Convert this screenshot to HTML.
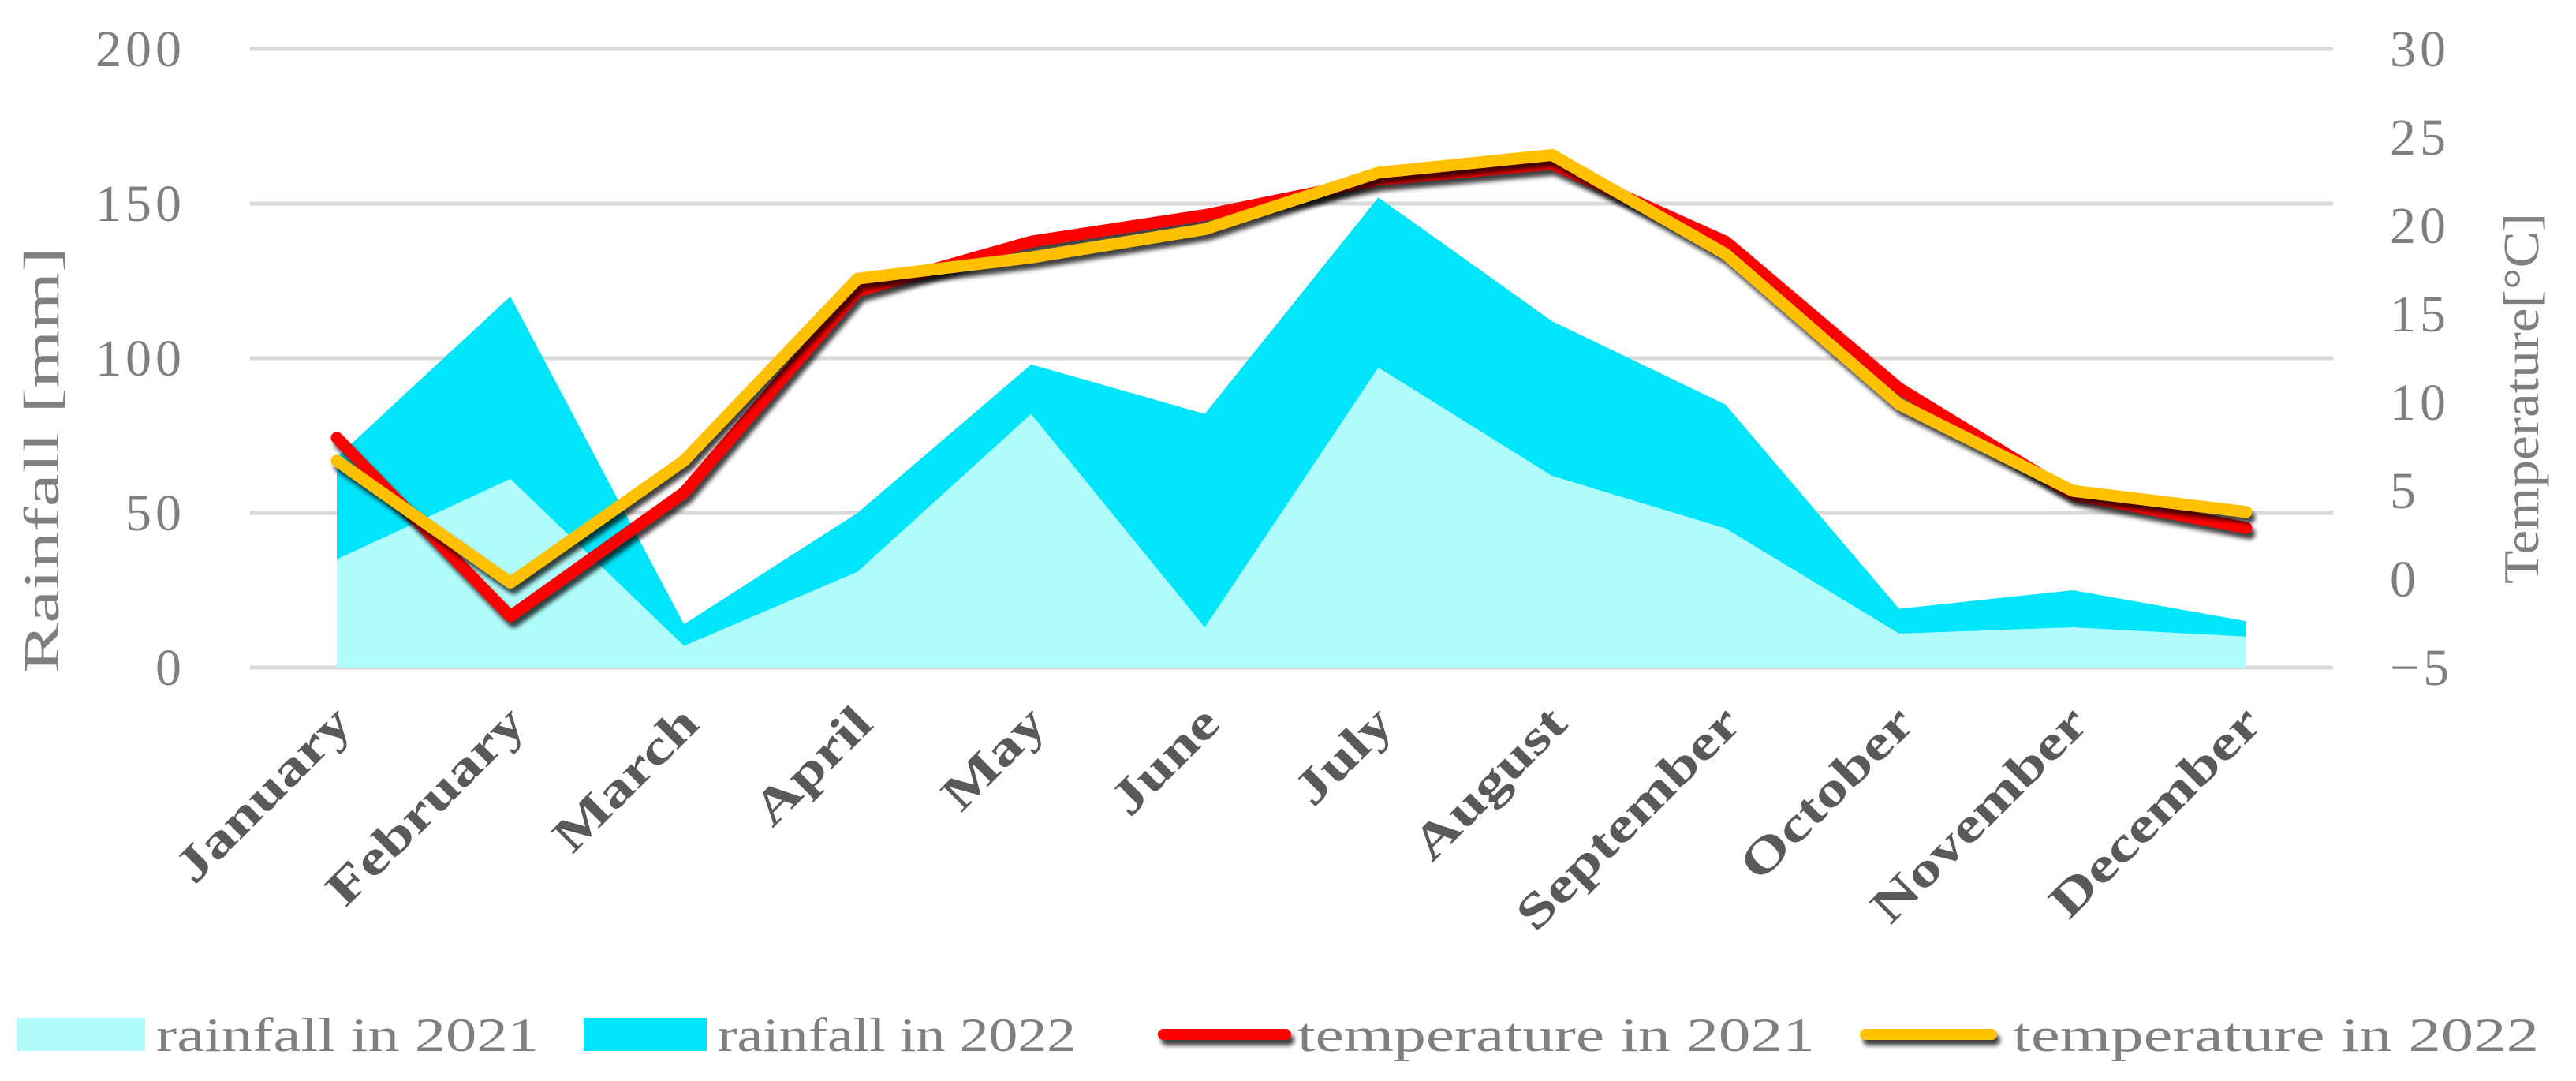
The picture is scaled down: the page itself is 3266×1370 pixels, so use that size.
<!DOCTYPE html>
<html><head><meta charset="utf-8"><style>
html,body{margin:0;padding:0;background:#fff;}
svg{display:block;font-family:"Liberation Serif",serif;}
</style></head><body>
<svg id="chart" width="3266" height="1370" viewBox="0 0 3266 1370" xmlns="http://www.w3.org/2000/svg">
<defs><filter id="sh" filterUnits="userSpaceOnUse" x="0" y="0" width="3266" height="1370"><feGaussianBlur in="SourceAlpha" stdDeviation="3"/><feOffset dx="4" dy="7" result="b"/><feComponentTransfer><feFuncA type="linear" slope="0.75"/></feComponentTransfer><feMerge><feMergeNode/><feMergeNode in="SourceGraphic"/></feMerge></filter></defs>
<g id="grid"></g><g id="areas"></g><g id="lines"></g><g id="labels"></g>
<text transform="translate(74,583) rotate(-90)" text-anchor="middle" font-size="64" fill="#7f7f7f" textLength="540" lengthAdjust="spacingAndGlyphs">Rainfall [mm]</text>
<text transform="translate(3218,505) rotate(-90)" text-anchor="middle" font-size="64" fill="#7f7f7f" textLength="470" lengthAdjust="spacingAndGlyphs">Temperature[°C]</text>
<g font-size="60" fill="#7f7f7f">
<rect x="21" y="1290" width="163" height="42" fill="#b0fcfc"/>
<text x="198" y="1332" textLength="485" lengthAdjust="spacingAndGlyphs">rainfall in 2021</text>
<rect x="740" y="1290" width="156" height="42" fill="#00e5fa"/>
<text x="910" y="1332" textLength="454" lengthAdjust="spacingAndGlyphs">rainfall in 2022</text>
<line x1="1475" y1="1311" x2="1630" y2="1311" stroke="#ff0000" stroke-width="14" stroke-linecap="round" filter="url(#sh)"/>
<text x="1645" y="1332" textLength="656" lengthAdjust="spacingAndGlyphs">temperature in 2021</text>
<line x1="2365" y1="1311" x2="2525" y2="1311" stroke="#ffc000" stroke-width="14" stroke-linecap="round" filter="url(#sh)"/>
<text x="2552" y="1332" textLength="667" lengthAdjust="spacingAndGlyphs">temperature in 2022</text>
</g>
</svg>
<script>
const months=["January","February","March","April","May","June","July","August","September","October","November","December"];
const rain2021=[35,61,7,31,82,13,97,62,45,11,13,10];
const rain2022=[68,120,14,50,98,82,152,112,85,19,25,15];
const temp2021=[8,-2.1,4.9,16.3,19.1,20.6,22.6,23.5,19.1,10.8,4.8,2.9];
const temp2022=[6.7,-0.2,6.7,17,18.2,19.8,23,24,18.4,9.9,5,3.8];
const rainTicks=[0,50,100,150,200];
const tempTicks=[-5,0,5,10,15,20,25,30];
const NS="http://www.w3.org/2000/svg";
const plotTop=62,plotBot=846,gx0=317,gx1=2958,mx0=427,mx1=2848;
function xs(i){return mx0+(mx1-mx0)*i/(months.length-1);}
function yr(v){return plotBot-(plotBot-plotTop)*v/200;}
function yt(v){return plotBot-(plotBot-plotTop)*(v+5)/35;}
function mk(tag,attrs,parent){const e=document.createElementNS(NS,tag);for(const k in attrs)e.setAttribute(k,attrs[k]);document.getElementById(parent).appendChild(e);return e;}
rainTicks.forEach(t=>{
 const l=mk("line",{x1:gx0,x2:gx1,y1:yr(t),y2:yr(t),stroke:"#d9d9d9","stroke-width":5},"grid");
 
 
 const tx=mk("text",{x:235,y:yr(t)+22,"text-anchor":"end","font-size":66,"letter-spacing":5,fill:"#7f7f7f"},"labels");
 tx.textContent=t;
 
 
});
tempTicks.forEach(t=>{
 const tx=mk("text",{x:3030,y:yt(t)+22,"font-size":66,"letter-spacing":5,fill:"#7f7f7f"},"labels");
 tx.textContent=(t<0?"\u2212"+(-t):t);
 
 
});
function area(data,color,name){
 let d="M"+xs(0)+","+plotBot;
 data.forEach((v,i)=>{d+=" L"+xs(i)+","+yr(v);});
 d+=" L"+xs(data.length-1)+","+plotBot+" Z";
 const p=mk("path",{d:d,fill:color},"areas");
 
 
}
area(rain2022,"#00e5fa","area-rainfall-2022");
area(rain2021,"#b0fcfc","area-rainfall-2021");
function line(data,color,name){
 const pts=data.map((v,i)=>xs(i)+","+yt(v)).join(" ");
 const p=mk("polyline",{points:pts,fill:"none",stroke:color,"stroke-width":15,"stroke-linecap":"round","stroke-linejoin":"round",filter:"url(#sh)"},"lines");
 
 
}
line(temp2021,"#ff0000","line-temperature-2021");
line(temp2022,"#ffc000","line-temperature-2022");
months.forEach((m,i)=>{
 const tx=mk("text",{transform:"translate("+(xs(i)+22)+",920) rotate(-45)","text-anchor":"end","font-size":62,"font-weight":"bold",fill:"#595959"},"labels");
 tx.textContent=m;
 
 
 try{const w=tx.getComputedTextLength();tx.setAttribute("textLength",w*1.3);tx.setAttribute("lengthAdjust","spacingAndGlyphs");}catch(e){}
});
</script>
</body></html>
